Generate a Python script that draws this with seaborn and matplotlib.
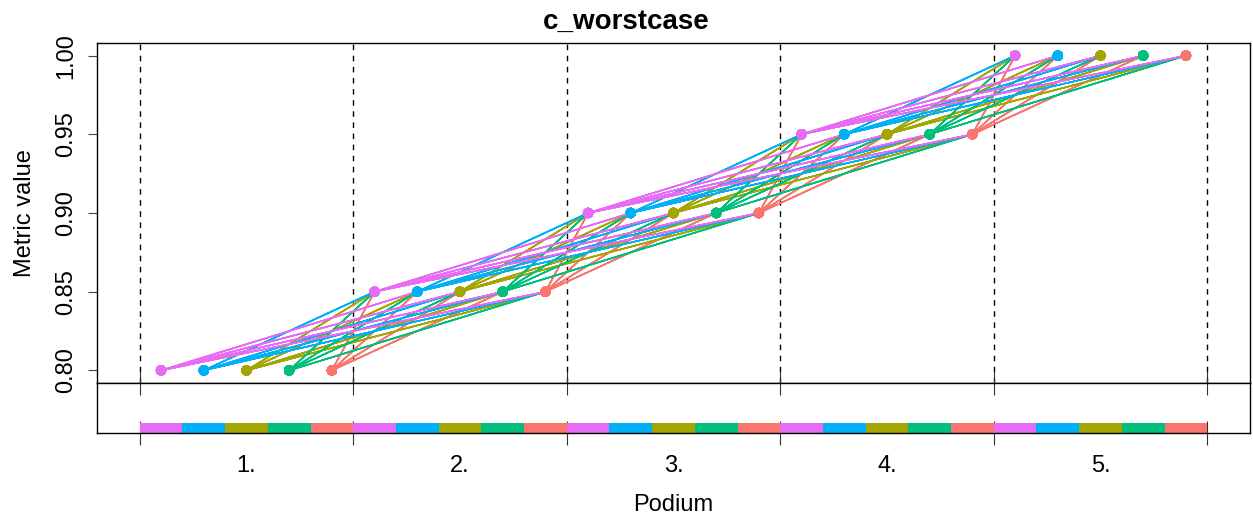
import pandas as pd
import numpy as np
import matplotlib
matplotlib.use("Agg")
import matplotlib.pyplot as plt
import seaborn as sns

# Algorithms in the order they sit inside every podium place
algorithms = ["A5", "A4", "A2", "A3", "A1"]
alg_colors = ["#E76BF3", "#00B0F6", "#A3A500", "#00BF7D", "#F8766D"]

# Metric value that goes with each podium place (worst case: every ordering once)
place_values = [0.80, 0.85, 0.90, 0.95, 1.00]
place_labels = ["1.", "2.", "3.", "4.", "5."]

# Test cases: algorithm number at podium place 1..5
cases = """
12345 12354 12435 12453 12534 12543 13245 13254 13425 13452 13524 13542
14235 14253 14325 14352 14523 14532 15234 15243 15324 15342 15423 15432
21345 21354 21435 21453 21534 21543 23145 23154 23415 23451 23514 23541
24135 24153 24315 24351 24513 24531 25134 25143 25314 25341 25413 25431
31245 31254 31425 31452 31524 31542 32145 32154 32415 32451 32514 32541
34125 34152 34215 34251 34512 34521 35124 35142 35214 35241 35412 35421
41235 41253 41325 41352 41523 41532 42135 42153 42315 42351 42513 42531
43125 43152 43215 43251 43512 43521 45123 45132 45213 45231 45312 45321
51234 51243 51324 51342 51423 51432 52134 52143 52314 52341 52413 52431
53124 53142 53214 53241 53412 53421 54123 54132 54213 54231 54312 54321
""".split()

n_alg = len(algorithms)
slot = {a: i for i, a in enumerate(algorithms)}
palette = dict(zip(algorithms, alg_colors))

# Build points and segments (each segment takes the colour of its left end)
pts, segs = [], []
for c, case in enumerate(cases):
    order = ["A" + d for d in case]
    xs = [p + (slot[a] + 0.5) / n_alg for p, a in enumerate(order)]
    for p, a in enumerate(order):
        pts.append({"x": xs[p], "y": place_values[p], "alg": a})
    for p in range(len(order) - 1):
        sid = f"{c}_{p}"
        segs.append({"x": xs[p], "y": place_values[p], "alg": order[p], "seg": sid})
        segs.append({"x": xs[p + 1], "y": place_values[p + 1], "alg": order[p], "seg": sid})
pts = pd.DataFrame(pts)
segs = pd.DataFrame(segs)

# How often each algorithm lands on each place
counts = pd.DataFrame([(p, "A" + d) for case in cases for p, d in enumerate(case)],
                      columns=["place", "alg"]).value_counts().reset_index(name="n")

sns.set_style("white")
plt.rcParams["font.family"] = ["Liberation Sans", "DejaVu Sans"]
plt.rcParams.update({"text.color": "black", "axes.labelcolor": "black",
                     "xtick.color": "black", "ytick.color": "black"})

W, H = 1253, 525
fig = plt.figure(figsize=(W / 100, H / 100), dpi=100)
ax = fig.add_axes([97 / W, 1 - 383 / H, 1153 / W, 340 / H])
axb = fig.add_axes([97 / W, 1 - 433 / H, 1153 / W, 50 / H])

sns.lineplot(data=segs, x="x", y="y", hue="alg", units="seg", estimator=None,
             sort=False, palette=palette, legend=False, lw=1.0, ax=ax)
sns.scatterplot(data=pts, x="x", y="y", hue="alg", palette=palette, s=55,
                edgecolor="none", legend=False, ax=ax, zorder=5)

for b in range(len(place_values) + 1):
    ax.axvline(b, color="black", lw=1.0, ls=(0, (4, 4)), zorder=1)

ax.set_xlim(-0.2, 5.2)
ax.set_ylim(0.792, 1.008)
ax.set_xticks([])
ax.set_yticks(place_values)
ax.set_yticklabels([f"{v:.2f}" for v in place_values], rotation=90, va="center")
ax.tick_params(axis="y", left=True, length=6.5, width=0.8, pad=8, labelsize=17,
               color="#444444")
ax.set_xlabel("")
ax.set_ylabel("Metric value", fontsize=17)
ax.yaxis.label.set_va("center")
ax.yaxis.set_label_coords(-72 / 1153, 0.5)
ax.set_title("")

# Bottom strip with place counts
for _, r in counts.iterrows():
    axb.bar(r["place"] + slot[r["alg"]] / n_alg, r["n"], width=1 / n_alg,
            align="edge", color=palette[r["alg"]], linewidth=0)
axb.set_xlim(-0.2, 5.2)
axb.set_ylim(0, len(cases))
axb.set_yticks([])
axb.set_xticks(range(len(place_values) + 1))
axb.set_xticklabels([])
axb.set_xticks([p + 0.5 for p in range(len(place_values))], minor=True)
axb.set_xticklabels(place_labels, minor=True)
axb.tick_params(axis="x", which="major", bottom=True, top=True, direction="inout",
                length=17, width=0.8, color="#333333")
axb.tick_params(axis="x", which="minor", bottom=False, length=0, pad=16, labelsize=17)
axb.set_xlabel("Podium", fontsize=17)
axb.xaxis.set_label_coords(0.5, -1.44)
axb.xaxis.label.set_va("center")
axb.set_ylabel("")

for a in (ax, axb):
    for s in a.spines.values():
        s.set_visible(True)
        s.set_color("black")
        s.set_linewidth(1.0)

fig.text(0.5, 1 - 22 / H, "c_worstcase", ha="center", va="center",
         fontsize=20, fontweight="bold")

fig.savefig("out.png", dpi=100)
